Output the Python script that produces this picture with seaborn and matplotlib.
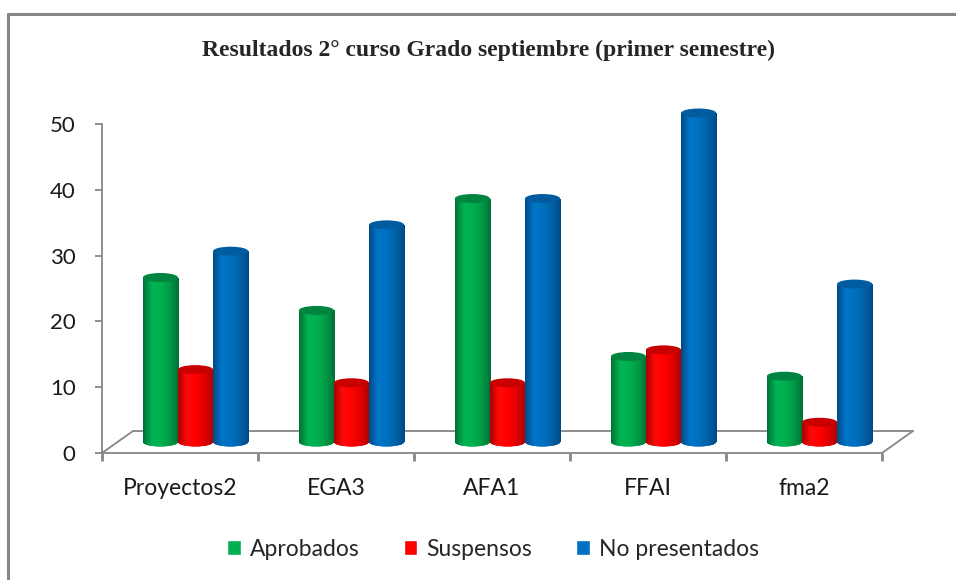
import numpy as np
import pandas as pd
import matplotlib
matplotlib.use("Agg")
import matplotlib.pyplot as plt
import seaborn as sns
from matplotlib.transforms import ScaledTranslation
from matplotlib.patches import Ellipse
from matplotlib.lines import Line2D
from matplotlib.colors import LinearSegmentedColormap

# ---- data ----
categories = ["Proyectos2", "EGA3", "AFA1", "FFAI", "fma2"]
series_names = ["Aprobados", "Suspensos", "No presentados"]
aprobados = [25, 20, 37, 13, 10]
suspensos = [11, 9, 9, 14, 3]
no_presentados = [29, 33, 37, 50, 24]
y_ticks = [0, 10, 20, 30, 40, 50]
title = "Resultados 2° curso Grado septiembre (primer semestre)"

colors = {"Aprobados": "#00B050", "Suspensos": "#FF0000", "No presentados": "#0070C0"}
shade = {
    "Aprobados": ["#006E36", "#00B452", "#00B050", "#009A45", "#006E36"],
    "Suspensos": ["#A80000", "#FF0A0A", "#FF0000", "#E00000", "#A80000"],
    "No presentados": ["#004A86", "#0075C8", "#0070C0", "#0062A8", "#004A86"],
}
tops = {"Aprobados": "#00843F", "Suspensos": "#C80000", "No presentados": "#005C9E"}

df = pd.DataFrame({
    "curso": categories * 3,
    "serie": sum([[s] * len(categories) for s in series_names], []),
    "valor": aprobados + suspensos + no_presentados,
})

sns.set_style("white")
plt.rcParams["font.family"] = ["Lato", "DejaVu Sans"]

W, H = 956, 580
fig = plt.figure(figsize=(W / 100, H / 100), dpi=100)
px_per_unit = 6.58
ymax = 55
ax = fig.add_axes([102 / W, (H - 453) / H, 780 / W, ymax * px_per_unit / H])

sns.barplot(data=df, x="curso", y="valor", hue="serie", palette=colors,
            width=0.675, gap=0, ax=ax, legend=True, saturation=1,
            order=categories, hue_order=series_names)

ax.set_xlim(-0.5, len(categories) - 0.5)
ax.set_ylim(0, ymax)
ax.set_xlabel("")
ax.set_ylabel("")

# 3D-like offset (depth) for bars
dx, dy = 15.5, 11
off = ax.transData + ScaledTranslation(dx / 100, dy / 100, fig.dpi_scale_trans)
eh = 9 / px_per_unit  # ellipse height in data units

for cont, name in zip(ax.containers, series_names):
    cmap = LinearSegmentedColormap.from_list(name, shade[name])
    grad = np.linspace(0, 1, 256)[None, :]
    for bar in cont:
        bar.set_transform(off)
        bar.set_clip_on(False)
        bar.set_edgecolor("none")
        bar.set_zorder(3)
        x0, w, h = bar.get_x(), bar.get_width(), bar.get_height()
        xc = x0 + w / 2
        bot = Ellipse((xc, 0), w, eh, transform=off, facecolor=colors[name],
                      edgecolor="none", zorder=3, clip_on=False)
        ax.add_patch(bot)
        for clip in (bar, bot):
            im = ax.imshow(grad, cmap=cmap, aspect="auto",
                           extent=(x0, x0 + w, -eh, h), transform=off,
                           zorder=3.5, interpolation="bilinear")
            im.set_clip_path(clip)
        top = Ellipse((xc, h), w, eh, transform=off, facecolor=tops[name],
                      edgecolor="none", zorder=4, clip_on=False)
        ax.add_patch(top)

ax.set_xlim(-0.5, len(categories) - 0.5)
ax.set_ylim(0, ymax)

gray = "#868686"
fig.canvas.draw()
back = ax.transData + ScaledTranslation(31 / 100, 22 / 100, fig.dpi_scale_trans)
ax.plot([-0.5, len(categories) - 0.5], [0, 0], color=gray, lw=1.3,
        transform=back, zorder=1, clip_on=False)
for xe in (-0.5, len(categories) - 0.5):
    p0 = ax.transData.transform((xe, 0))
    p1 = back.transform((xe, 0))
    fig.add_artist(Line2D([p0[0], p1[0]], [p0[1], p1[1]], color=gray, lw=1.3,
                          transform=None, zorder=1))

for s in ("top", "right"):
    ax.spines[s].set_visible(False)
ax.spines["left"].set_bounds(0, 50)
ax.spines["left"].set_color(gray)
ax.spines["left"].set_linewidth(1.3)
ax.spines["bottom"].set_color(gray)
ax.spines["bottom"].set_linewidth(1.3)
ax.set_yticks(y_ticks)
ax.set_yticklabels([str(t) for t in y_ticks])
ax.tick_params(axis="y", direction="out", length=5, width=1.3, color=gray,
               labelsize=16, pad=14, labelcolor="#1a1a1a", left=True)
ax.set_xticks(range(len(categories)))
ax.set_xticklabels(categories)
ax.set_xticks(np.arange(-0.5, len(categories)), minor=True)
ax.tick_params(axis="x", which="major", length=0, labelsize=16.5, pad=18,
               labelcolor="#1a1a1a")
ax.tick_params(axis="x", which="minor", direction="out", length=6, width=2,
               color=gray, bottom=True)
ax.grid(False)

handles, labels = ax.get_legend_handles_labels()
ax.get_legend().remove()
fig.legend(handles, labels, loc="center", bbox_to_anchor=(493 / W, 1 - 549 / H),
           ncol=3, frameon=False, fontsize=16.5, handlelength=0.6,
           handleheight=0.6, handletextpad=0.4, columnspacing=1.9)

fig.text(489 / W, 1 - 50 / H, title, ha="center", va="center",
         fontfamily="Liberation Serif", fontweight="bold", fontsize=17)

fig.add_artist(Line2D([7.5 / W, 1], [1 - 13.5 / H, 1 - 13.5 / H], color=gray,
                      lw=2.2, transform=fig.transFigure))
fig.add_artist(Line2D([8 / W, 8 / W], [0, 1 - 13.5 / H], color=gray,
                      lw=2.2, transform=fig.transFigure))

fig.savefig("out.png", dpi=100)
